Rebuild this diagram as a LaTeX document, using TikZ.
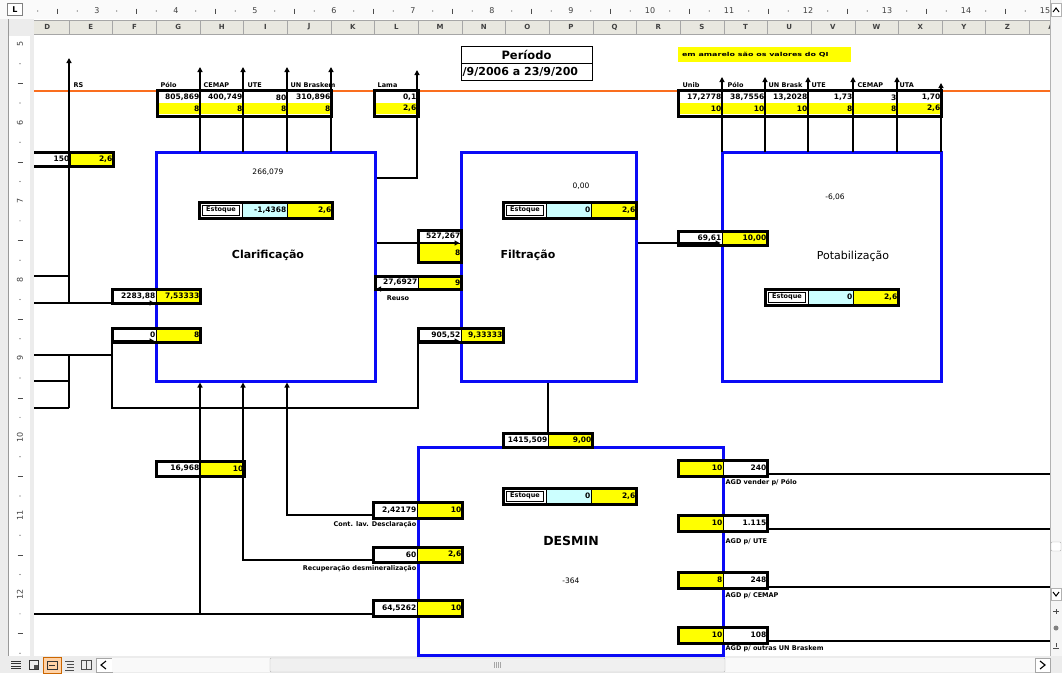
\documentclass[tikz,border=0pt]{standalone}
\usepackage{fontspec}
\setmainfont{DejaVu Sans}
\newfontfamily\widefont[FakeStretch=1.45]{DejaVu Sans}
\usetikzlibrary{arrows.meta}
\definecolor{pblue}{RGB}{10,10,245}
\definecolor{orng}{RGB}{250,110,30}
\definecolor{yel}{RGB}{255,255,0}
\definecolor{lblue}{RGB}{204,255,255}
\definecolor{hdr}{RGB}{232,231,223}
\definecolor{uigray}{RGB}{236,236,236}
\definecolor{rulerbg}{RGB}{250,250,250}
\tikzset{
 ln/.style={line width=1.8pt},
 arr/.style={line width=1.8pt, -{Triangle[width=5pt,length=5pt]}},
 proc/.style={draw=pblue, line width=3pt, fill=white, inner sep=0pt},
 grp/.style={draw=black, line width=3pt, inner sep=0pt},
 cellbg/.style={draw=black, line width=0.8pt, inner sep=0pt},
 val/.style={font=\fontsize{7.5}{8}\selectfont\bfseries, inner sep=0.6pt},
 small/.style={font=\fontsize{6.5}{7}\selectfont\bfseries, inner sep=0.5pt},
 inner/.style={font=\fontsize{7.5}{8}\selectfont, inner sep=0.5pt},
 title/.style={font=\fontsize{11.5}{12}\selectfont\bfseries, inner sep=0pt},
 hdrtxt/.style={font=\fontsize{7}{7}\selectfont\bfseries, text=black!75, inner sep=0pt},
 rultxt/.style={font=\fontsize{8}{8}\selectfont, text=black!75, inner sep=0pt},
}
\newcommand\mycell[7]{%
 \node[cellbg, minimum width={((#4)-(#2))*1pt}, minimum height={((#5)-(#3))*1pt}, #6] (#1) at ({((#2)+(#4))/2},{((#3)+(#5))/2}) {};
 \node[val, anchor=east] at ([xshift=-0.3pt]#1.east) {#7};}
\newcommand\grpbox[5]{%
 \node[grp, minimum width={((#4)-(#2))*1pt}, minimum height={((#5)-(#3))*1pt}] (#1) at ({((#2)+(#4))/2},{((#3)+(#5))/2}) {};}
\newcommand\procbox[5]{%
 \node[proc, minimum width={((#4)-(#2))*1pt}, minimum height={((#5)-(#3))*1pt}] (#1) at ({((#2)+(#4))/2},{((#3)+(#5))/2}) {};}
\newcommand\estoque[5]{%
 \mycell{#1a}{#2}{#3}{#2+43}{#3+16}{fill=white}{}
 \node[draw, line width=0.6pt, inner sep=0pt, minimum width=37pt, minimum height=10pt, font=\fontsize{6.5}{7}\selectfont\bfseries] at ([xshift=0.5pt]#1a.center) {Estoque};
 \mycell{#1b}{#2+43}{#3}{#2+88}{#3+16}{fill=lblue}{#4}
 \mycell{#1c}{#2+88}{#3}{#2+133}{#3+16}{fill=yel}{#5}
 \grpbox{#1}{#2}{#3}{#2+133}{#3+16}}
\begin{document}
\begin{tikzpicture}[x=1pt,y=-1pt]
\useasboundingbox (0,0) rectangle (1062,673);
\fill[white] (0,0) rectangle (1062,673);

% ---------- Excel UI ----------
\fill[rulerbg] (0,0) rectangle (1062,19);
\node[draw=gray, fill=white, minimum width=15pt, minimum height=12pt, inner sep=0pt, font=\fontsize{8}{8}\selectfont\bfseries] (Lbox) at (15,9.5) {L};
\foreach \k in {3,...,15} {\node[rultxt] (rn\k) at ({97+79*(\k-3)},11) {\k};}
\foreach \k in {2,...,14} {
  \foreach \q in {1,3} {\fill[black!70] ({97+79*(\k-3)+19.75*\q},11) circle (0.6pt);}
  \draw[black!70] ({97+79*(\k-3)+39.5},8.5) -- ++(0,5);}
\fill[hdr] (34,20) rectangle (1050,34);
\draw[gray!70] (34,20) -- (1050,20) (34,34) -- (1050,34);
\foreach \i in {0,...,22} {\draw[gray!70] ({69+43.65*\i},20) -- ++(0,14);}
\foreach \L [count=\i from 0] in {D,E,F,G,H,I,J,K,L,M,N,O,P,Q,R,S,T,U,V,W,X,Y,Z,A} {
  \node[hdrtxt] (col\L) at ({47.2+43.65*\i},27) {\L};}
% left ruler
\fill[uigray] (0,19) rectangle (34,656);
\fill[white] (9,36) rectangle (30,656);
\draw[gray!80] (8,19) -- (8,656);
\foreach \r in {5,...,12} {
  \node[rultxt, rotate=90] (row\r) at (20,{44+78.6*(\r-5)}) {\r};
  \foreach \q in {1,3} {\fill[black!70] (20,{44+78.6*(\r-5)+19.65*\q}) circle (0.6pt);}
  \draw[black!70] (17.5,{44+78.6*(\r-5)+39.3}) -- ++(5,0);}
% bottom bar
\fill[uigray] (0,656) rectangle (1062,673);
\foreach \yy in {661,663.5,666,668.5} {\draw[black!80, line width=0.6pt] (11,\yy) -- (21,\yy);}
\draw[black!80, line width=0.6pt] (29,660) rectangle (38,669);
\fill[black!70] (34,665) rectangle (38,669);
\fill[orange!35] (43,657) rectangle (61,673);
\draw[orange!80!black, line width=0.5pt] (43,657) rectangle (61,673);
\draw[black!80, line width=0.7pt] (47,661) rectangle (57,669) (49,665) -- (55,665);
\draw[black!70, line width=0.5pt] (65,661) -- (74,661) (67,664) -- (74,664) (67,667) -- (74,667) (65,670) -- (74,670);
\draw[black!70, line width=0.6pt] (81,660) rectangle (91,669) (86,660) -- (86,669);
\draw[gray!70, fill=white] (96,658) rectangle (112,672);
\draw[black, line width=1.1pt] (106,661) -- (101,665) -- (106,669);
\fill[white!95!gray] (112,658) rectangle (1035,672);
\draw[gray!55, fill=gray!12, rounded corners=1pt] (270,658) rectangle (725,672);
\foreach \xx in {494,496,498,500} {\draw[gray!70] (\xx,662) -- (\xx,668);}
\draw[gray!70, fill=white] (1035,658) rectangle (1050,672);
\draw[black, line width=1.1pt] (1040,661) -- (1045,665) -- (1040,669);
% right scrollbar
\fill[gray!8] (1050,0) rectangle (1062,656);
\draw[gray!60] (1050,0) -- (1050,656);
\draw[gray!60, fill=white] (1051,3) rectangle (1061,16);
\draw[black, line width=1pt] (1053,12) -- (1056,8) -- (1059,12);
\draw[gray!60, fill=white, rounded corners=1pt] (1051,542) rectangle (1061,551);
\draw[gray!60, fill=white] (1051,588) rectangle (1061,600);
\draw[black, line width=1pt] (1053,592) -- (1056,596) -- (1059,592);
\draw[black!70, line width=0.6pt] (1053,611) -- (1059,611) (1056,609) -- (1056,614);
\fill[black!50] (1056,628) circle (2.5pt);
\draw[black!70, line width=0.6pt] (1053,648) -- (1059,648) (1056,643) -- (1056,647);

% ---------- diagram ----------
\begin{scope}
\clip (34,35) rectangle (1050,656);
\draw[orng, line width=2.6pt] (34,91) -- (1050,91);

% title and note
\node[draw, line width=1pt, minimum width=131pt, minimum height=17pt, title] (tit1) at (526.5,54.5) {Período};
\node[draw, line width=1pt, minimum width=131pt, minimum height=17pt, inner sep=0pt] (tit2) at (526.5,71.5) {};
\node[font=\fontsize{11}{11}\selectfont\bfseries, anchor=west, inner sep=0pt] (tit2t) at ([xshift=2pt]tit2.west) {/9/2006 a 23/9/200};
\node[fill=yel, minimum width=173pt, minimum height=15pt, inner sep=0pt] (note) at (764.5,54.5) {};
\node[font=\widefont\fontsize{5.5}{6}\selectfont\bfseries, anchor=west, inner sep=0pt] (notet) at ([xshift=4pt]note.west) {em amarelo são os valores do QI};

% process boxes
\procbox{clar}{156}{152}{375}{381}
\procbox{filt}{461}{152}{636}{381}
\procbox{pot}{722}{152}{941}{381}
\procbox{des}{418}{447}{723}{655}

% labels over the top groups
\node[small, anchor=base west] (lRS) at (73,87) {RS};
\node[small, anchor=base west] (lP1) at (160,87) {Pólo};
\node[small, anchor=base west] (lC1) at (203,87) {CEMAP};
\node[small, anchor=base west] (lU1) at (247,87) {UTE};
\node[small, anchor=base west] (lB1) at (290,87) {UN Braskem};
\node[small, anchor=base west] (lLa) at (377,87) {Lama};
\node[small, anchor=base west] (lUn) at (682,87) {Unib};
\node[small, anchor=base west] (lP2) at (727,87) {Pólo};
\node[small, anchor=base west] (lB2) at (768,87) {UN Brask};
\node[small, anchor=base west] (lU2) at (811,87) {UTE};
\node[small, anchor=base west] (lC2) at (857,87) {CEMAP};
\node[small, anchor=base west] (lUA) at (899,87) {UTA};

% top-left group
\mycell{g1a}{156}{92}{200}{103}{fill=white,draw=none}{805,869}
\mycell{g1b}{156}{103}{200}{114}{fill=yel,draw=none}{8}
\mycell{g2a}{200}{92}{243}{103}{fill=white,draw=none}{400,749}
\mycell{g2b}{200}{103}{243}{114}{fill=yel,draw=none}{8}
\mycell{g3a}{243}{92}{287}{103}{fill=white,draw=none}{80}
\mycell{g3b}{243}{103}{287}{114}{fill=yel,draw=none}{8}
\mycell{g4a}{287}{92}{331}{103}{fill=white,draw=none}{310,896}
\mycell{g4b}{287}{103}{331}{114}{fill=yel,draw=none}{8}
\grpbox{gL}{157}{90}{331}{116}
% Lama
\mycell{lma}{374}{92}{417}{103}{fill=white,draw=none}{0,1}
\mycell{lmb}{374}{103}{417}{114}{fill=yel,draw=none}{2,6}
\grpbox{gLama}{374}{90}{418}{116}
% top-right group
\mycell{r1a}{678}{92}{722}{103}{fill=white,draw=none}{17,2778}
\mycell{r1b}{678}{103}{722}{114}{fill=yel,draw=none}{10}
\mycell{r2a}{722}{92}{765}{103}{fill=white,draw=none}{38,7556}
\mycell{r2b}{722}{103}{765}{114}{fill=yel,draw=none}{10}
\mycell{r3a}{765}{92}{808}{103}{fill=white,draw=none}{13,2028}
\mycell{r3b}{765}{103}{808}{114}{fill=yel,draw=none}{10}
\mycell{r4a}{808}{92}{853}{103}{fill=white,draw=none}{1,73}
\mycell{r4b}{808}{103}{853}{114}{fill=yel,draw=none}{8}
\mycell{r5a}{853}{92}{897}{103}{fill=white,draw=none}{3}
\mycell{r5b}{853}{103}{897}{114}{fill=yel,draw=none}{8}
\mycell{r6a}{897}{92}{941}{103}{fill=white,draw=none}{1,70}
\mycell{r6b}{897}{103}{941}{114}{fill=yel,draw=none}{2,6}
\grpbox{gR}{678}{90}{941}{116}

% process texts
\node[inner] (clarv) at (268,172) {266,079};
\node[title, font=\fontsize{11}{12}\selectfont\bfseries] (clart) at (268,255) {Clarificação};
\node[inner] (filtv) at (581,186) {0,00};
\node[title, font=\fontsize{11}{12}\selectfont\bfseries] (filtt) at (528,255) {Filtração};
\node[inner] (potv) at (835,197) {-6,06};
\node[font=\fontsize{11}{12}\selectfont, inner sep=0pt] (pott) at (853,256) {Potabilização};
\node[font=\fontsize{12.5}{13}\selectfont\bfseries, inner sep=0pt] (dest) at (571,541) {DESMIN};
\node[inner] (desv) at (571,581) {-364};

% stock rows
\estoque{ec}{199}{202}{-1,4368}{2,6}
\estoque{ef}{503}{202}{0}{2,6}
\estoque{ep}{765}{289}{0}{2,6}
\estoque{ed}{503}{488}{0}{2,6}

% pair boxes
\mycell{i150a}{28}{152}{70}{166}{fill=white}{150}
\mycell{i150b}{70}{152}{113}{166}{fill=yel}{2,6}
\grpbox{i150}{28}{152}{113}{166}
\mycell{i228a}{112}{289}{156}{303}{fill=white}{2283,88}
\mycell{i228b}{156}{289}{200}{303}{fill=yel}{7,53333}
\grpbox{i228}{112}{289}{200}{303}
\mycell{i0a}{112}{328}{156}{342}{fill=white}{0}
\mycell{i0b}{156}{328}{200}{342}{fill=yel}{8}
\grpbox{i0}{112}{328}{200}{342}
\mycell{f527a}{418}{230}{461}{243}{fill=white}{527,267}
\mycell{f527b}{418}{243}{461}{262}{fill=yel}{8}
\grpbox{f527}{418}{230}{461}{262}
\mycell{f27a}{375}{276}{418}{289}{fill=white}{27,6927}
\mycell{f27b}{418}{276}{461}{289}{fill=yel}{9}
\grpbox{f27}{375}{276}{461}{289}
\mycell{f905a}{418}{328}{461}{342}{fill=white}{905,52}
\mycell{f905b}{461}{328}{503}{342}{fill=yel}{9,33333}
\grpbox{f905}{418}{328}{503}{342}
\mycell{p69a}{678}{231}{722}{245}{fill=white}{69,61}
\mycell{p69b}{722}{231}{767}{245}{fill=yel}{10,00}
\grpbox{p69}{678}{231}{767}{245}
\mycell{c16a}{156}{461}{200}{476}{fill=white}{16,968}
\mycell{c16b}{200}{461}{244}{476}{fill=yel}{10}
\grpbox{c16}{156}{461}{244}{476}
\mycell{d24a}{373}{502}{417}{518}{fill=white}{2,42179}
\mycell{d24b}{417}{502}{462}{518}{fill=yel}{10}
\grpbox{d24}{373}{502}{462}{518}
\mycell{d60a}{373}{547}{417}{562}{fill=white}{60}
\mycell{d60b}{417}{547}{462}{562}{fill=yel}{2,6}
\grpbox{d60}{373}{547}{462}{562}
\mycell{d64a}{373}{600}{417}{616}{fill=white}{64,5262}
\mycell{d64b}{417}{600}{462}{616}{fill=yel}{10}
\grpbox{d64}{373}{600}{462}{616}
\mycell{d14a}{503}{433}{548}{447}{fill=white}{1415,509}
\mycell{d14b}{548}{433}{592}{447}{fill=yel}{9,00}
\grpbox{d14}{503}{433}{592}{447}
\mycell{o1a}{678}{460}{723}{476}{fill=yel}{10}
\mycell{o1b}{723}{460}{767}{476}{fill=white}{240}
\grpbox{o1}{678}{460}{767}{476}
\mycell{o2a}{678}{515}{723}{531}{fill=yel}{10}
\mycell{o2b}{723}{515}{767}{531}{fill=white}{1.115}
\grpbox{o2}{678}{515}{767}{531}
\mycell{o3a}{678}{572}{723}{588}{fill=yel}{8}
\mycell{o3b}{723}{572}{767}{588}{fill=white}{248}
\grpbox{o3}{678}{572}{767}{588}
\mycell{o4a}{678}{627}{723}{643}{fill=yel}{10}
\mycell{o4b}{723}{627}{767}{643}{fill=white}{108}
\grpbox{o4}{678}{627}{767}{643}

% connectors
\draw[arr] (69,303) -- (69,58);
\draw[ln] (34,276) -- (69,276);
\draw[arr] (34,303) -- (clar.west |- 0,303);
\draw[ln] (34,355) -- (112,355);
\draw[ln] (34,381) -- (69,381);
\draw[ln] (34,408) -- (69,408);
\draw[ln] (69,355) -- (69,408);
\draw[ln] (112,328) -- (112,408) -- (418,408) -- (418,328);
\draw[arr] (112,341) -- (clar.west |- 0,341);
\draw[arr] (418,341) -- (filt.west |- 0,341);
\draw[arr] (clar.east |- 0,178) -- (417,178) -- (417,70);
\draw[arr] (clar.east |- 0,243) -- (filt.west |- 0,243);
\draw[arr, line width=1.1pt] (filt.west |- 0,289) -- (376,289);
\draw[arr] (filt.east |- 0,243) -- (pot.west |- 0,243);
\draw[ln] (filt.south -| 548,0) -- (d14.north -| 548,0);
\foreach \x in {200,243,287,331} {\draw[arr] (\x,152) -- (\x,67);}
\foreach \x in {722,765,808,853,897} {\draw[arr] (\x,152) -- (\x,77);}
\draw[arr] (941,152) -- (941,83);
\draw[ln] (34,614) -- (d64.west |- 0,614);
\draw[arr] (200,614) -- (clar.south -| 200,0);
\draw[arr] (d60.west |- 0,560) -- (243,560) -- (clar.south -| 243,0);
\draw[arr] (d24.west |- 0,515) -- (287,515) -- (clar.south -| 287,0);
\draw[ln] (o1.east |- 0,474) -- (1050,474);
\draw[ln] (o2.east |- 0,529) -- (1050,529);
\draw[ln] (o3.east |- 0,587) -- (1050,587);
\draw[ln] (o4.east |- 0,641) -- (1050,641);

% small labels
\node[small, anchor=base] (lreuso) at (398,300) {Reuso};
\node[small, anchor=base east] (lcont) at (417,526) {Cont. lav. Desclaração};
\node[small, anchor=base east] (lrec) at (417,570) {Recuperação desmineralização};
\node[small, anchor=base west] (la1) at (725,484) {AGD vender p/ Pólo};
\node[small, anchor=base west] (la2) at (725,543) {AGD p/ UTE};
\node[small, anchor=base west] (la3) at (725,597) {AGD p/ CEMAP};
\node[small, anchor=base west] (la4) at (725,650) {AGD p/ outras UN Braskem};
\end{scope}
\end{tikzpicture}
\end{document}
